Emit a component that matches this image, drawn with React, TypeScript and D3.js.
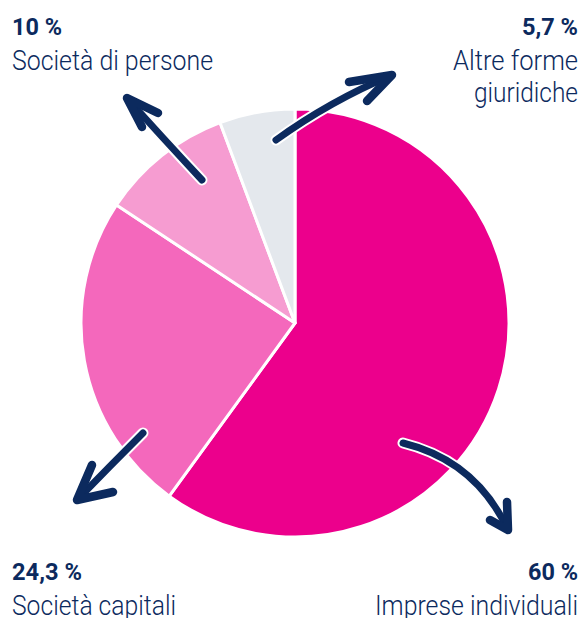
import React from "react";
import * as d3 from "d3";

const categories = ["Imprese individuali", "Società capitali", "Società di persone", "Altre forme giuridiche"];
const values = [60, 24.3, 10, 5.7];
const valueLabels = ["60 %", "24,3 %", "10 %", "5,7 %"];
const colors = ["#EC008C", "#F468BC", "#F69CD1", "#E4E8ED"];

const W = 582;
const H = 618;
const cx = 295;
const cy = 323;
const R = 214;
const NAVY = "#0C2A5E";

// arrow annotations: offsets from pie centre [start, control, tip, arm1, arm2]
const arrows: [number, number][][] = [
  [[108, 120], [181, 138], [213, 207], [212, 179], [195, 197]],
  [[-152, 110], [-185, 143], [-218, 177], [-203, 142], [-182, 169]],
  [[-93, -143], [-135, -188], [-168, -225], [-153, -196], [-137, -210]],
  [[-19, -183], [35, -222], [97, -248], [54, -241], [72, -222]],
];

// label layout
const labelLayout = [
  { x: 578, anchor: "end", y: 580, lines: ["Imprese individuali"], numLen: 50, lineLens: [203] },
  { x: 12, anchor: "start", y: 580, lines: ["Società capitali"], numLen: 70, lineLens: [164] },
  { x: 12, anchor: "start", y: 35, lines: ["Società di persone"], numLen: 50, lineLens: [201] },
  { x: 578, anchor: "end", y: 35, lines: ["Altre forme", "giuridiche"], numLen: 56, lineLens: [125, 104] },
];

export default function App() {
  const pie = d3.pie<number>().sort(null).value((d) => d).startAngle(0).endAngle(2 * Math.PI);
  const arcs = pie(values);
  const arcGen = d3.arc<d3.PieArcDatum<number>>().innerRadius(0).outerRadius(R);

  const arrowPath = (a: [number, number][]) => {
    const [s, c, t] = a;
    return `M${cx + s[0]},${cy + s[1]} Q${cx + c[0]},${cy + c[1]} ${cx + t[0]},${cy + t[1]}`;
  };
  const headPath = (a: [number, number][]) => {
    const t = a[2], a1 = a[3], a2 = a[4];
    return `M${cx + a1[0]},${cy + a1[1]} L${cx + t[0]},${cy + t[1]} L${cx + a2[0]},${cy + a2[1]}`;
  };

  return (
    <svg
      width={W}
      height={H}
      viewBox={`0 0 ${W} ${H}`}
      style={{ position: "absolute", left: 0, top: 0, background: "#fff" }}
    >
      <g transform={`translate(${cx},${cy})`}>
        {arcs.map((a, i) => (
          <path key={i} d={arcGen(a) || ""} fill={colors[i]} stroke="#fff" strokeWidth={3} strokeLinejoin="round" />
        ))}
      </g>
      {arrows.map((a, i) => (
        <g key={i} fill="none" strokeLinecap="round" strokeLinejoin="round">
          <path d={arrowPath(a)} stroke="#fff" strokeWidth={11} />
          <path d={arrowPath(a)} stroke={NAVY} strokeWidth={7} />
          <path d={headPath(a)} stroke={NAVY} strokeWidth={8.5} />
        </g>
      ))}
      {labelLayout.map((l, i) => (
        <g key={i} fill={NAVY} fontFamily="Roboto, 'Open Sans', sans-serif" textAnchor={l.anchor}>
          <text x={l.x} y={l.y} fontSize={24} fontWeight={700} textLength={l.numLen} lengthAdjust="spacingAndGlyphs">
            {valueLabels[i]}
          </text>
          {l.lines.map((ln, j) => (
            <text
              key={j}
              x={l.x}
              y={l.y + 35 + j * 32}
              fontSize={28}
              fontWeight={300}
              textLength={l.lineLens[j]}
              lengthAdjust="spacingAndGlyphs"
            >
              {ln}
            </text>
          ))}
        </g>
      ))}
      <title>{categories.join(", ")}</title>
    </svg>
  );
}
